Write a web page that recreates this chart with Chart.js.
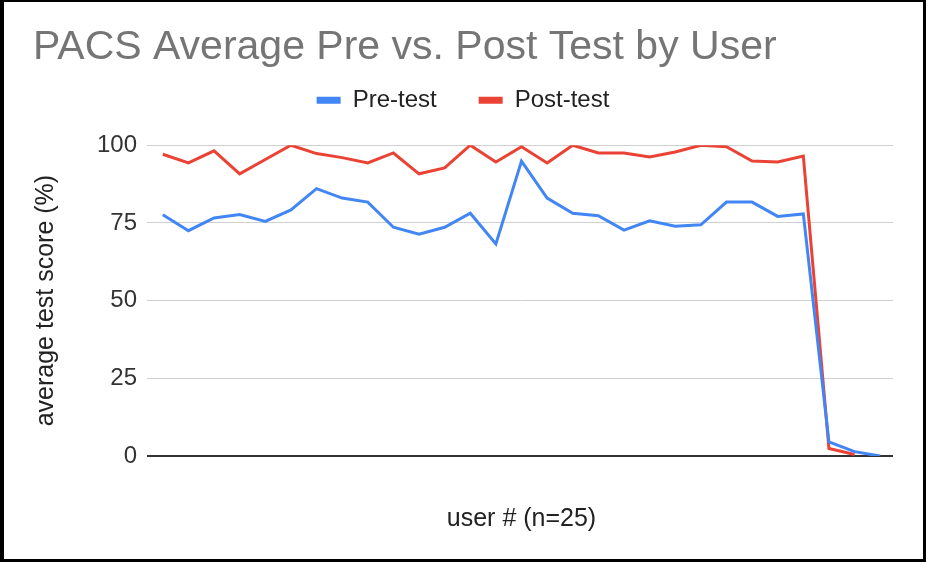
<!DOCTYPE html>
<html>
<head>
<meta charset="utf-8">
<script src="https://cdn.jsdelivr.net/npm/chart.js@4/dist/chart.umd.min.js"></script>
<style>
  html, body { margin: 0; padding: 0; background: #000; }
  #wrap { position: absolute; left: 4px; top: 2px; width: 919px; height: 557px; background: #fff; }
</style>
</head>
<body>
<div id="wrap"><canvas id="scoreChart" width="919" height="557"></canvas></div>
<script>
// one entry per user on the x axis (labels are not shown)
var users = ['1','2','3','4','5','6','7','8','9','10','11','12','13','14','15','16','17','18','19','20','21','22','23','24','25','26','27','28','29'];
var preTest = [77.6, 72.5, 76.6, 77.7, 75.5, 79.2, 86, 83, 81.7, 73.6, 71.4, 73.6, 78.1, 68.2, 94.9, 83, 78.1, 77.3, 72.7, 75.7, 73.9, 74.4, 81.7, 81.7, 77.1, 77.9, 4.5, 1.4, 0];
var postTest = [97.1, 94.3, 98.2, 90.8, 95.4, 100, 97.3, 96, 94.3, 97.5, 90.8, 92.7, 100, 94.6, 99.5, 94.3, 100, 97.5, 97.5, 96.2, 97.8, 100, 99.5, 94.9, 94.6, 96.5, 2.4, 0.5, null];
var yTicks = [0, 25, 50, 75, 100];

var FONT = "'Liberation Sans', Arial, sans-serif";
Chart.defaults.font.family = FONT;
Chart.defaults.animation = false;

// give the legend a fixed height so the plot starts lower
var legendHeight = {
    id: 'legendHeight',
    beforeInit: function (chart) {
        var fit = chart.legend.fit;
        chart.legend.fit = function () {
            fit.bind(chart.legend)();
            this.height = 99;
        };
    }
};

var ctx = document.getElementById('scoreChart').getContext('2d');
var scoreChart = new Chart(ctx, {
    type: 'line',
    data: {
        labels: users,
        datasets: [{
            label: 'Pre-test',
            data: preTest,
            borderColor: '#4285F4',
            backgroundColor: '#4285F4',
            borderWidth: 3,
            pointRadius: 0,
            tension: 0
        },
        {
            label: 'Post-test',
            data: postTest,
            borderColor: '#EA4335',
            backgroundColor: '#EA4335',
            borderWidth: 3,
            pointRadius: 0,
            tension: 0
        }]
    },
    options: {
        responsive: false,
        layout: { padding: { left: 29, right: 30, top: 0, bottom: 0 } },
        plugins: {
            title: {
                display: true,
                text: 'PACS Average Pre vs. Post Test by User',
                align: 'start',
                color: '#757575',
                font: { size: 41, weight: 'normal' },
                padding: { top: 21, bottom: -26 }
            },
            legend: {
                labels: {
                    color: '#222',
                    font: { size: 24 },
                    boxWidth: 24,
                    boxHeight: 7,
                    padding: 42,
                    generateLabels: function (chart) {
                        return Chart.defaults.plugins.legend.labels.generateLabels(chart).map(function (l) {
                            l.lineWidth = 0;
                            return l;
                        });
                    }
                }
            },
            tooltip: { enabled: false }
        },
        scales: {
            x: {
                offset: true,
                grid: { display: false },
                border: { display: false },
                ticks: { display: false },
                title: {
                    display: true,
                    text: 'user # (n=25)',
                    color: '#222',
                    font: { size: 25 },
                    padding: { top: 0, bottom: 25 }
                },
                afterFit: function (scale) { scale.height = 103; }
            },
            y: {
                min: 0,
                max: 100,
                afterBuildTicks: function (scale) {
                    scale.ticks = yTicks.map(function (v) { return { value: v }; });
                },
                grid: {
                    color: function (c) { return c.tick && c.tick.value === 0 ? '#333' : '#d0d0d0'; },
                    lineWidth: function (c) { return c.tick && c.tick.value === 0 ? 2 : 1; },
                    tickLength: 3
                },
                border: { display: false },
                ticks: { color: '#333', font: { size: 24 }, padding: 10 },
                title: {
                    display: true,
                    text: 'average test score (%)',
                    color: '#222',
                    font: { size: 25 },
                    padding: { top: -2, bottom: 0 }
                },
                afterFit: function (scale) { scale.width = 117; }
            }
        }
    },
    plugins: [legendHeight]
});
</script>
</body>
</html>
